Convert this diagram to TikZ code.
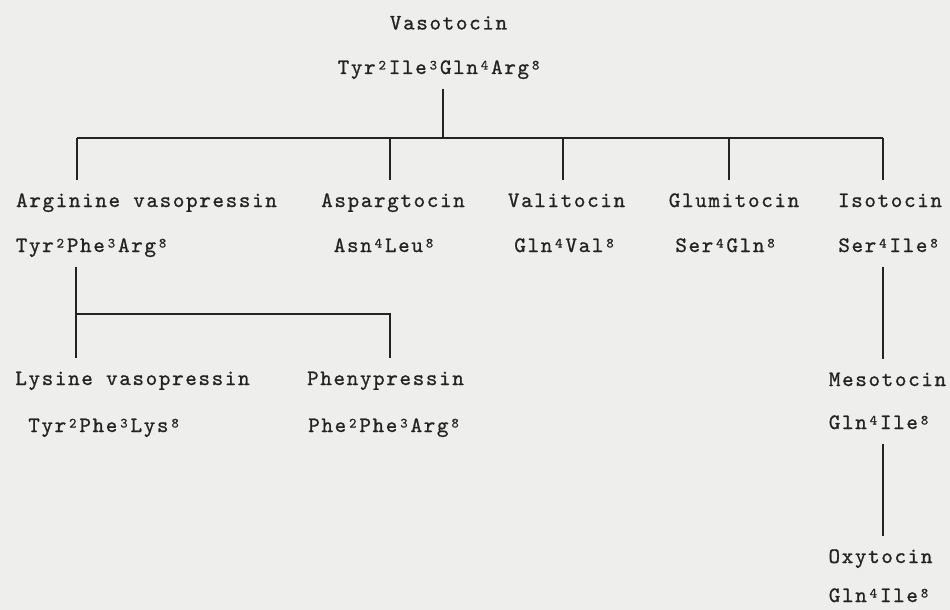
\documentclass[tikz,border=0pt]{standalone}
\usepackage{fontspec}
\usepackage{tikz}
\newfontfamily\typewr[LetterSpace=7.5,FakeBold=0.9]{lmmono10-regular.otf}
\newcommand{\typeface}{\typewr\fontsize{22}{26}\selectfont}
\newcommand{\sups}[1]{\makebox[13.2pt]{\raisebox{4.5pt}{\fontsize{14}{14}\selectfont #1}}}
\definecolor{paper}{RGB}{238,238,236}
\definecolor{ink}{RGB}{35,35,35}

\begin{document}
\begin{tikzpicture}[x=1pt,y=-1pt,
  peptide/.style={font=\typeface,text=ink,anchor=base,inner sep=0pt,outer ysep=14pt,
    text height=13pt,text depth=4.5pt},
  formula/.style={peptide,outer ysep=10pt},
  link/.style={draw=ink,line width=1.8pt}]
  \fill[paper] (0,0) rectangle (950,610);
  \useasboundingbox (0,0) rectangle (950,610);

  % ancestor
  \node[peptide] (vaso) at (448.5,29.5) {Vasotocin};
  \node[formula] (vasof) at (440,74) {Tyr\sups{2}Ile\sups{3}Gln\sups{4}Arg\sups{8}};

  % second row
  \node[peptide] (avp) at (146.5,207) {Arginine vasopressin};
  \node[formula] (avpf) at (92.5,252) {Tyr\sups{2}Phe\sups{3}Arg\sups{8}};
  \node[peptide] (asp) at (393,207) {Aspargtocin};
  \node[formula] (aspf) at (385,252) {Asn\sups{4}Leu\sups{8}};
  \node[peptide] (val) at (566.5,207) {Valitocin};
  \node[formula] (valf) at (565.5,252) {Gln\sups{4}Val\sups{8}};
  \node[peptide] (glu) at (734,207) {Glumitocin};
  \node[formula] (gluf) at (726.5,252) {Ser\sups{4}Gln\sups{8}};
  \node[peptide] (iso) at (890,207) {Isotocin};
  \node[formula] (isof) at (889.5,252) {Ser\sups{4}Ile\sups{8}};

  % third row
  \node[peptide] (lvp) at (132.5,385) {Lysine vasopressin};
  \node[formula] (lvpf) at (105,432) {Tyr\sups{2}Phe\sups{3}Lys\sups{8}};
  \node[peptide] (phe) at (385.5,385) {Phenypressin};
  \node[formula] (phef) at (385,432) {Phe\sups{2}Phe\sups{3}Arg\sups{8}};
  \node[peptide] (meso) at (887.5,386) {Mesotocin};
  \node[formula] (mesof) at (880,429) {Gln\sups{4}Ile\sups{8}};
  \node[peptide] (oxy) at (880.5,563) {Oxytocin};
  \node[formula] (oxyf) at (880,602) {Gln\sups{4}Ile\sups{8}};

  % junctions
  \coordinate (top) at (443,138);
  \coordinate (jAvp) at (77,138);
  \coordinate (jAsp) at (390,138);
  \coordinate (jVal) at (563,138);
  \coordinate (jGlu) at (729,138);
  \coordinate (jIso) at (883,138);
  \coordinate (split) at (76,314);
  \coordinate (jPhe) at (390,314);

  \draw[link] (top |- vasof.south) -- (top);
  \draw[link] (jAvp) -- (jIso);
  \foreach \j/\n in {jAvp/avp,jAsp/asp,jVal/val,jGlu/glu,jIso/iso}
    \draw[link] (\j) -- (\j |- \n.north);
  \draw[link] (split |- avpf.south) -- (split) -- (split |- lvp.north);
  \draw[link] (split) -- (jPhe) -- (jPhe |- phe.north);
  \draw[link] (jIso |- isof.south) -- (jIso |- meso.north);
  \draw[link] (jIso |- mesof.south) -- (jIso |- oxy.north);
\end{tikzpicture}
\end{document}
